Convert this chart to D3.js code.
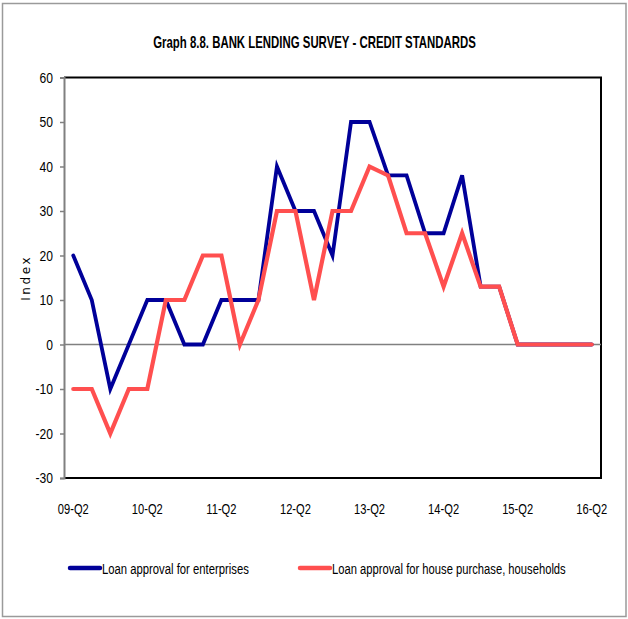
<!DOCTYPE html>
<html>
<head>
<meta charset="utf-8">
<script src="https://cdn.jsdelivr.net/npm/d3@7"></script>
<style>
  html, body { margin: 0; padding: 0; background: #fff; }
  svg { display: block; }
  text { font-family: "Liberation Sans", Arial, sans-serif; fill: #000; }
</style>
</head>
<body>
<svg id="chart" width="628" height="619"></svg>
<script>
const quarters = ["09-Q2","09-Q3","09-Q4","10-Q1","10-Q2","10-Q3","10-Q4","11-Q1","11-Q2","11-Q3","11-Q4",
  "12-Q1","12-Q2","12-Q3","12-Q4","13-Q1","13-Q2","13-Q3","13-Q4","14-Q1","14-Q2","14-Q3","14-Q4",
  "15-Q1","15-Q2","15-Q3","15-Q4","16-Q1","16-Q2"];
const enterprises = [20,10,-10,0,10,10,0,0,10,10,10,40,30,30,20,50,50,38,38,25,25,38,13,13,0,0,0,0,0];
const households = [-10,-10,-20,-10,-10,10,10,20,20,0,10,30,30,10,30,30,40,38,25,25,13,25,13,13,0,0,0,0,0];
const xTickLabels = ["09-Q2","10-Q2","11-Q2","12-Q2","13-Q2","14-Q2","15-Q2","16-Q2"];
const yTicks = [-30,-20,-10,0,10,20,30,40,50,60];
const seriesNames = ["Loan approval for enterprises","Loan approval for house purchase, households"];
const seriesColors = ["#000099","#FF4F4F"];

const svg = d3.select("#chart");
const plot = {left: 64, right: 601, top: 77.5, bottom: 478};

// squeeze glyphs horizontally to imitate a condensed face
function squeeze(sel, factor) {
  sel.each(function () {
    const t = d3.select(this);
    const x0 = +(t.attr("x") || 0);
    t.attr("x", x0 / factor).attr("transform", `scale(${factor},1)`);
  });
}
function fitWidth(sel, width) {
  sel.each(function () {
    const len = this.getComputedTextLength();
    d3.select(this).attr("transform", `scale(${width / len},1)`);
  });
}

// outer frame
svg.append("rect").attr("x", 2.5).attr("y", 3.5).attr("width", 623.5).attr("height", 613)
  .attr("fill", "#fff").attr("stroke", "#9a9a9a").attr("stroke-width", 1.5);

const title = svg.append("g").attr("transform", "translate(314.5,47.5)")
  .append("text").attr("text-anchor", "middle")
  .attr("font-size", 16.5).attr("font-weight", "bold")
  .text("Graph 8.8. BANK LENDING SURVEY - CREDIT STANDARDS");
fitWidth(title, 323);

const x = d3.scaleBand().domain(quarters).range([plot.left, plot.right]).padding(0);
const y = d3.scaleLinear().domain([-30, 60]).range([plot.bottom, plot.top]);
const cx = q => x(q) + x.bandwidth() / 2;

// plot border (top, right, bottom black)
svg.append("path")
  .attr("d", `M${plot.left},${y(60)}H${plot.right}V${y(-30)}H${plot.left}`)
  .attr("fill", "none").attr("stroke", "#000").attr("stroke-width", 2);

// zero line
svg.append("line").attr("x1", plot.left).attr("x2", plot.right)
  .attr("y1", y(0)).attr("y2", y(0)).attr("stroke", "#808080").attr("stroke-width", 1.5);

// y axis
const yAxis = svg.append("g").attr("transform", `translate(${plot.left},0)`)
  .call(d3.axisLeft(y).tickValues(yTicks).tickSize(4).tickPadding(7).tickFormat(d => String(d)));
yAxis.select(".domain").attr("stroke", "#808080").attr("stroke-width", 2);
yAxis.selectAll(".tick line").attr("stroke", "#808080").attr("stroke-width", 1.5);
yAxis.selectAll(".tick text").attr("font-size", 15.5).attr("font-family", null).attr("fill", "#000");
squeeze(yAxis.selectAll(".tick text"), 0.78);

// x labels
const xAxis = svg.append("g").attr("transform", `translate(0,${plot.bottom})`)
  .call(d3.axisBottom(x).tickValues(xTickLabels).tickSize(0).tickPadding(25));
xAxis.select(".domain").remove();
xAxis.selectAll(".tick text").attr("font-size", 15.5).attr("font-family", null).attr("fill", "#000");
squeeze(xAxis.selectAll(".tick text"), 0.72);

// Index label
svg.append("text").attr("transform", `translate(29.5,${y(15)}) rotate(-90)`)
  .attr("text-anchor", "middle").attr("font-size", 12)
  .style("font-family", "DejaVu Sans, sans-serif").style("letter-spacing", "2.6px").text("Index");

const line = d3.line().x((d, i) => cx(quarters[i])).y(d => y(d));
[enterprises, households].forEach((s, k) => {
  svg.append("path").datum(s).attr("d", line).attr("fill", "none")
    .attr("stroke", seriesColors[k]).attr("stroke-width", k === 0 ? 3.8 : 4.2)
    .attr("stroke-linejoin", "miter").attr("stroke-linecap", "round");
});

// legend
const legendX = [70, 300];
const legendW = [147, 234];
seriesNames.forEach((n, k) => {
  const g = svg.append("g").attr("transform", `translate(${legendX[k]},568)`);
  g.append("line").attr("x1", 0).attr("x2", 30).attr("y1", 0).attr("y2", 0)
    .attr("stroke", seriesColors[k]).attr("stroke-width", 4.5).attr("stroke-linecap", "round");
  const t = g.append("g").attr("transform", "translate(32,6)")
    .append("text").attr("font-size", 15.5).text(n);
  fitWidth(t, legendW[k]);
});
</script>
</body>
</html>
